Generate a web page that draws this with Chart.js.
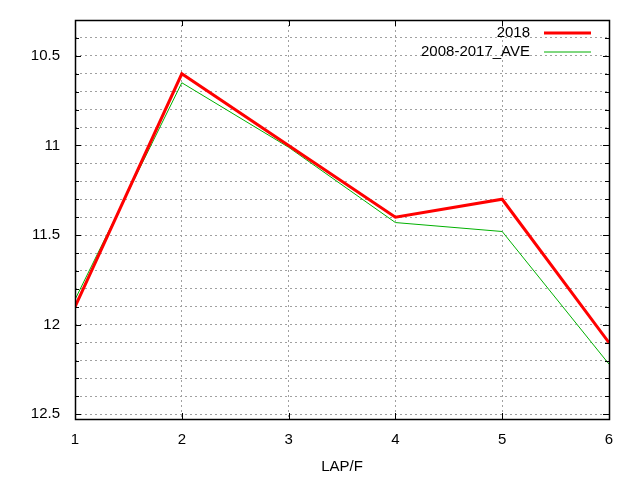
<!DOCTYPE html>
<html>
<head>
<meta charset="utf-8">
<script src="https://cdn.jsdelivr.net/npm/chart.js@4/dist/chart.umd.min.js"></script>
<style>
  html, body { margin: 0; padding: 0; background: #fff; }
  canvas { display: block; }
</style>
</head>
<body>
<canvas id="lapChart" width="640" height="480"></canvas>
<script>
  // lap number on x, time (reversed axis) on y
  var laps = [1, 2, 3, 4, 5, 6];
  var times2018 = [11.9, 10.6, 11.0, 11.4, 11.3, 12.1];
  var timesAve = [11.86, 10.65, 11.01, 11.43, 11.48, 12.22];
  var seriesNames = ["2018", "2008-2017_AVE"];
  var yLabelValues = [10.5, 11, 11.5, 12, 12.5];

  var FONT = "'Liberation Sans', Arial, sans-serif";

  function toPoints(values) {
    return laps.map(function (lap, i) { return { x: lap, y: values[i] }; });
  }

  function isLabelTick(v) {
    return yLabelValues.some(function (t) { return Math.abs(t - v) < 1e-6; });
  }

  // frame, inner tick marks and key drawn the gnuplot way
  var framePlugin = {
    id: "frame",
    afterDraw: function (chart) {
      var ctx = chart.ctx;
      var a = chart.chartArea;
      var xs = chart.scales.x;
      var ys = chart.scales.y;
      ctx.save();
      ctx.strokeStyle = "#000";
      ctx.lineWidth = 1;
      ctx.beginPath();
      ys.ticks.forEach(function (t) {
        var py = Math.round(ys.getPixelForValue(t.value)) + 0.5;
        var len = isLabelTick(t.value) ? 6 : 4;
        ctx.moveTo(a.left, py); ctx.lineTo(a.left + len, py);
        ctx.moveTo(a.right, py); ctx.lineTo(a.right - len, py);
      });
      xs.ticks.forEach(function (t) {
        var px = Math.round(xs.getPixelForValue(t.value)) + 0.5;
        ctx.moveTo(px, a.bottom); ctx.lineTo(px, a.bottom - 6);
        ctx.moveTo(px, a.top); ctx.lineTo(px, a.top + 6);
      });
      ctx.stroke();
      ctx.lineWidth = 1.5;
      ctx.strokeRect(Math.round(a.left) + 0.5, Math.round(a.top) + 0.5,
        Math.round(a.right - a.left), Math.round(a.bottom - a.top));

      // key
      ctx.font = "15px " + FONT;
      ctx.textAlign = "right";
      ctx.textBaseline = "middle";
      chart.data.datasets.forEach(function (ds, i) {
        var y = a.top + 13 + i * 19;
        ctx.fillStyle = "#000";
        ctx.fillText(ds.label, a.right - 79, y);
        ctx.strokeStyle = ds.borderColor;
        ctx.lineWidth = ds.borderWidth;
        ctx.beginPath();
        ctx.moveTo(a.right - 65, y);
        ctx.lineTo(a.right - 18, y);
        ctx.stroke();
      });
      ctx.restore();
    }
  };

  new Chart(document.getElementById("lapChart"), {
    type: "line",
    data: {
      datasets: [
        {
          label: seriesNames[0],
          data: toPoints(times2018),
          borderColor: "#ff0000",
          borderWidth: 3,
          pointRadius: 0,
          tension: 0,
          fill: false
        },
        {
          label: seriesNames[1],
          data: toPoints(timesAve),
          borderColor: "#00b000",
          borderWidth: 1,
          pointRadius: 0,
          tension: 0,
          fill: false
        }
      ]
    },
    options: {
      responsive: false,
      animation: false,
      layout: { padding: { top: 20, right: 31, left: 0, bottom: 0 } },
      plugins: {
        legend: { display: false },
        tooltip: { enabled: false }
      },
      scales: {
        x: {
          type: "linear",
          min: 1,
          max: 6,
          afterFit: function (s) { s.height = 61; },
          ticks: {
            stepSize: 1,
            padding: 12,
            color: "#000",
            font: { family: FONT, size: 15 }
          },
          grid: { color: "#a0a0a0", drawTicks: false, lineWidth: 1 },
          border: { display: false, dash: [2, 3] },
          title: {
            display: true,
            text: "LAP/F",
            color: "#000",
            font: { family: FONT, size: 15 },
            padding: { top: 6, bottom: 4 }
          }
        },
        y: {
          reverse: true,
          min: 10.3,
          max: 12.526,
          afterFit: function (s) {
            s.width = 75;
            s.paddingTop = 0;
            s.paddingBottom = 0;
          },
          ticks: {
            stepSize: 0.1,
            includeBounds: false,
            autoSkip: false,
            padding: 15,
            color: "#000",
            font: { family: FONT, size: 15 },
            callback: function (v) { return isLabelTick(v) ? String(Math.round(v * 10) / 10) : ""; }
          },
          grid: { color: "#a0a0a0", drawTicks: false, lineWidth: 1 },
          border: { display: false, dash: [2, 3] }
        }
      }
    },
    plugins: [framePlugin]
  });
</script>
</body>
</html>
